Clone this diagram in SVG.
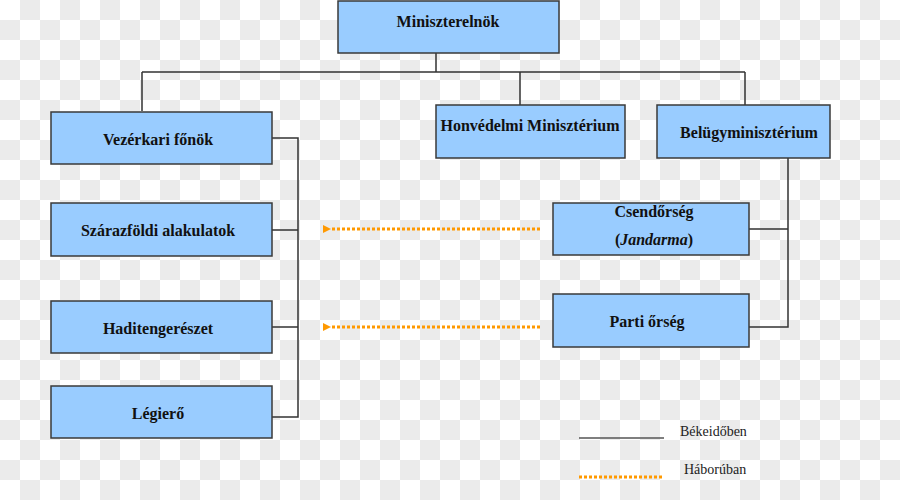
<svg xmlns="http://www.w3.org/2000/svg" width="900" height="500" viewBox="0 0 900 500">
<defs>
<pattern id="chk" width="40" height="40" patternUnits="userSpaceOnUse">
<rect width="40" height="40" fill="#ffffff"/>
<rect x="20" y="0" width="20" height="20" fill="#ebebeb"/>
<rect x="0" y="20" width="20" height="20" fill="#ebebeb"/>
</pattern>
<marker id="arr" markerWidth="8" markerHeight="8" refX="1" refY="4" orient="auto" markerUnits="userSpaceOnUse">
<path d="M8,0 L0,4 L8,8 Z" fill="#ff9900"/>
</marker>
</defs>
<style>
.box{fill:#99ccff;stroke:#3a3a3a;stroke-width:1.5}
.t{font-family:"Liberation Serif","DejaVu Serif",serif;font-weight:bold;font-size:16px;fill:#111;text-anchor:middle}
.lg{font-family:"Liberation Serif","DejaVu Serif",serif;font-size:14px;fill:#222}
.ln{fill:none;stroke:#333;stroke-width:1.5}
.war{fill:none;stroke:#ff9900;stroke-width:3;stroke-dasharray:3 2}
</style>
<rect width="900" height="500" fill="url(#chk)"/>
<g id="connectors">
<path class="ln" d="M436,53 V72 M142,72 H745 M142,72 V111 M520,72 V105 M745,72 V105"/>
<path class="ln" d="M272,138 H298 V417 H272 M272,230 H298 M272,327 H298"/>
<path class="ln" d="M788,158 V327 H749 M749,229 H788"/>
<path class="war" d="M540,229 H330" marker-end="url(#arr)"/>
<path class="war" d="M540,327 H330" marker-end="url(#arr)"/>
</g>
<g id="miniszterelnok"><rect class="box" x="338" y="1" width="221" height="52"/><text class="t" x="448" y="27">Miniszterelnök</text></g>
<g id="vezerkari"><rect class="box" x="51" y="112" width="221" height="52"/><text class="t" x="158" y="145">Vezérkari főnök</text></g>
<g id="szarazfoldi"><rect class="box" x="51" y="203" width="221" height="53"/><text class="t" x="158" y="236">Szárazföldi alakulatok</text></g>
<g id="haditengereszet"><rect class="box" x="51" y="301" width="221" height="52"/><text class="t" x="158" y="334">Haditengerészet</text></g>
<g id="legiero"><rect class="box" x="51" y="386" width="221" height="52"/><text class="t" x="158" y="419">Légierő</text></g>
<g id="honvedelmi"><rect class="box" x="436" y="105" width="189" height="53"/><text class="t" x="530" y="131">Honvédelmi Minisztérium</text></g>
<g id="belugy"><rect class="box" x="657" y="105" width="173" height="53"/><text class="t" x="749" y="138">Belügyminisztérium</text></g>
<g id="csendorseg"><rect class="box" x="553" y="203" width="196" height="52"/><text class="t" x="654" y="217">Csendőrség</text><text class="t" x="654" y="245">(<tspan font-style="italic">Jandarma</tspan>)</text></g>
<g id="parti"><rect class="box" x="553" y="294" width="196" height="53"/><text class="t" x="647" y="327">Parti őrség</text></g>
<g id="legend">
<path d="M579,438 H664" stroke="#555" stroke-width="1.5"/>
<text class="lg" x="680" y="436">Békeidőben</text>
<path d="M579,477 H664" stroke="#ff9900" stroke-width="3" stroke-dasharray="3 2"/>
<text class="lg" x="684" y="474">Háborúban</text>
</g>
</svg>
